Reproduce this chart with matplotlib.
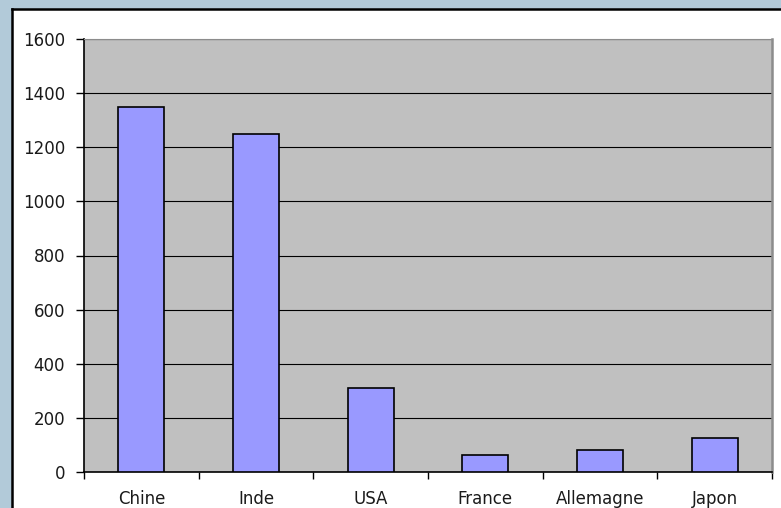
import matplotlib.pyplot as plt
from matplotlib.patches import Rectangle
import numpy as np

# Population by country (millions)
countries = ["Chine", "Inde", "USA", "France", "Allemagne", "Japon"]
population = [1350, 1250, 310, 64, 82, 127]
y_ticks = [0, 200, 400, 600, 800, 1000, 1200, 1400, 1600]

plt.rcParams['font.family'] = ['DejaVu Sans']

fig = plt.figure(figsize=(7.81, 5.08), dpi=100)
fig.patch.set_facecolor("#b2cad9")

# white chart panel with dark frame on left and top
panel = Rectangle((12 / 781, 0), 1, 1 - 9 / 508, transform=fig.transFigure,
                  facecolor="white", edgecolor="none", zorder=-2)
fig.patches.append(panel)
fig.add_artist(plt.Line2D([12 / 781, 12 / 781], [0, 1 - 9 / 508], transform=fig.transFigure,
                          color="black", lw=1.8, zorder=-1))
fig.add_artist(plt.Line2D([12 / 781, 1], [1 - 9 / 508, 1 - 9 / 508], transform=fig.transFigure,
                          color="black", lw=1.8, zorder=-1))

ax = fig.add_axes([84 / 781, 36 / 508, 688 / 781, 433 / 508])
ax.set_zorder(1)
ax.set_facecolor("#c0c0c0")

x = np.arange(len(countries))
ax.bar(x, population, width=0.4, color="#9999ff", edgecolor="black", linewidth=1.2, zorder=3)

ax.set_xlim(-0.5, len(countries) - 0.5)
ax.set_ylim(0, 1600)
ax.set_yticks(y_ticks)
ax.yaxis.grid(True, color="black", linewidth=0.8, zorder=1)
ax.set_axisbelow(True)

# ticks on category boundaries, labels at centers
ax.set_xticks(np.arange(-0.5, len(countries), 1.0))
ax.set_xticklabels([])
ax.set_xticks(x, minor=True)
ax.set_xticklabels(countries, minor=True)
ax.tick_params(axis="x", which="major", direction="out", length=5, width=1, color="black")
ax.tick_params(axis="x", which="minor", length=0, pad=13, labelsize=12, labelcolor="#1a1a1a")
ax.tick_params(axis="y", direction="out", length=5.5, width=1, pad=8, labelsize=12, labelcolor="#1a1a1a")

ax.spines["left"].set_color("black")
ax.spines["bottom"].set_color("black")
ax.spines["left"].set_linewidth(1.2)
ax.spines["bottom"].set_linewidth(1.2)
ax.spines["top"].set_color("#8c8c8c")
ax.spines["right"].set_color("#8c8c8c")
ax.spines["right"].set_linewidth(1.8)

fig.savefig("out.png", dpi=100, facecolor=fig.get_facecolor())
